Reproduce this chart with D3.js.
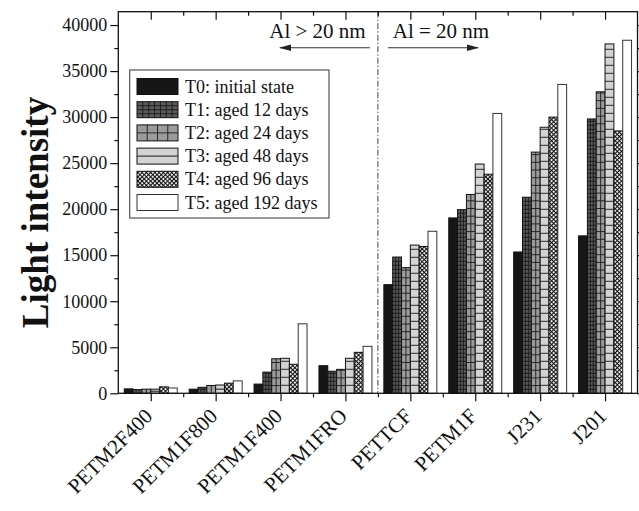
<!DOCTYPE html>
<html>
<head>
<meta charset="utf-8">
<script src="https://cdn.jsdelivr.net/npm/d3@7"></script>
<style>
  body { margin: 0; background: #fff; }
  svg { display: block; }
  text { font-family: "Liberation Serif", "Times New Roman", serif; fill: #111; }
</style>
</head>
<body>
<svg id="chart" width="639" height="511"></svg>
<script>
// Samples along the x axis
const samples = ["PETM2F400", "PETM1F800", "PETM1F400", "PETM1FRO", "PETTCF", "PETM1F", "J231", "J201"];

// Ageing states
const seriesNames = [
  "T0: initial state",
  "T1: aged 12 days",
  "T2: aged 24 days",
  "T3: aged 48 days",
  "T4: aged 96 days",
  "T5: aged 192 days"
];

// Light intensity per sample, one array per ageing state
const t0 = [480, 450, 1000, 3000, 11800, 19050, 15350, 17100];
const t1 = [400, 650, 2300, 2400, 14800, 19950, 21300, 29800];
const t2 = [450, 850, 3750, 2600, 13650, 21600, 26200, 32750];
const t3 = [450, 900, 3800, 3800, 16100, 24900, 28900, 37950];
const t4 = [700, 1100, 3150, 4450, 15950, 23800, 30000, 28500];
const t5 = [580, 1350, 7550, 5100, 17600, 30400, 33550, 38350];
const seriesValues = [t0, t1, t2, t3, t4, t5];

const yTicks = [0, 5000, 10000, 15000, 20000, 25000, 30000, 35000, 40000];
const yMinorTicks = [2500, 7500, 12500, 17500, 22500, 27500, 32500, 37500];
const yTitle = "Light intensity";
const leftNote = "Al > 20 nm";
const rightNote = "Al = 20 nm";
const dividerSample = "PETTCF";

const frame = { left: 118.3, right: 637.5, top: 11.7, bottom: 393.3 };
const svg = d3.select("#chart");

const x0 = d3.scaleBand().domain(samples).range([frame.left, frame.right]);
const x1 = d3.scaleBand().domain(d3.range(seriesNames.length))
  .range([0, x0.bandwidth()]).paddingInner(0).paddingOuter(0.675);
const y = d3.scaleLinear().domain([0, 41450]).range([frame.bottom, frame.top]);

// Fill styles for each ageing state
const baseFill = ["#161616", "#5a5a5a", "#9b9b9b", "#d3d3d3", "url(#checks)", "#ffffff"];
const barGrid = [null, { cols: 3, step: 4 }, { cols: 2, step: 7.7 }, { cols: 1, step: 8 }, null, null];
const swatchGrid = [null, { cols: 7, step: 4 }, { cols: 4, step: 8 }, { cols: 1, step: 8 }, null, null];

const defs = svg.append("defs");
const checks = defs.append("pattern").attr("id", "checks")
  .attr("patternUnits", "userSpaceOnUse").attr("width", 3).attr("height", 3)
  .attr("patternTransform", "rotate(45)");
checks.append("rect").attr("width", 3).attr("height", 3).attr("fill", "#fff");
checks.append("rect").attr("width", 3).attr("height", 1.1).attr("fill", "#111");
checks.append("rect").attr("width", 1.1).attr("height", 3).attr("fill", "#111");

defs.append("marker").attr("id", "arrowhead")
  .attr("markerUnits", "userSpaceOnUse").attr("markerWidth", 12).attr("markerHeight", 8)
  .attr("refX", 11).attr("refY", 4).attr("orient", "auto")
  .append("path").attr("d", "M0,0.8 L12,4 L0,7.2 Z").attr("fill", "#222");

// Draws a filled box with its grid lines
function drawBox(g, i, bx, by, bw, bh, grid) {
  g.append("rect").attr("x", bx).attr("y", by).attr("width", bw).attr("height", bh)
    .attr("fill", baseFill[i]);
  if (grid) {
    for (let k = 1; k < grid.cols; k++) {
      const lx = bx + k * bw / grid.cols;
      g.append("line").attr("x1", lx).attr("x2", lx).attr("y1", by).attr("y2", by + bh)
        .attr("stroke", "#1a1a1a").attr("stroke-width", 0.9);
    }
    if (grid.cols === 1 && bh < 20) {
      g.append("line").attr("x1", bx).attr("x2", bx + bw).attr("y1", by + bh / 2).attr("y2", by + bh / 2)
        .attr("stroke", "#1a1a1a").attr("stroke-width", 1);
    } else {
      for (let ly = by + bh - grid.step; ly > by + 0.5; ly -= grid.step) {
        g.append("line").attr("x1", bx).attr("x2", bx + bw).attr("y1", ly).attr("y2", ly)
          .attr("stroke", "#1a1a1a").attr("stroke-width", 0.9);
      }
    }
  }
  g.append("rect").attr("x", bx).attr("y", by).attr("width", bw).attr("height", bh)
    .attr("fill", "none").attr("stroke", i === 5 ? "#333" : "#111").attr("stroke-width", 1);
}

// Bars
const barsG = svg.append("g");
seriesValues.forEach((vals, i) => {
  vals.forEach((v, j) => {
    const bx = x0(samples[j]) + x1(i);
    const by = y(v);
    drawBox(barsG, i, bx, by, x1.bandwidth(), y(0) - by, barGrid[i]);
  });
});

// Divider between the two aluminium thickness groups
svg.append("line")
  .attr("x1", x0(dividerSample)).attr("x2", x0(dividerSample))
  .attr("y1", frame.top).attr("y2", frame.bottom)
  .attr("stroke", "#444").attr("stroke-width", 1).attr("stroke-dasharray", "6,2,1.5,2");

// Axes
const centers = samples.map(s => x0(s) + x0.bandwidth() / 2);
const bounds = samples.slice(1).map(s => x0(s));
const xc = d3.scaleLinear().domain([0, 639]).range([0, 639]);

function styleAxis(g) {
  g.select(".domain").remove();
  g.selectAll("line").attr("stroke", "#111").attr("stroke-width", 1.2);
}

svg.append("g").attr("transform", `translate(${frame.left},0)`)
  .call(d3.axisLeft(y).tickValues(yTicks).tickSize(8).tickPadding(3).tickFormat(d3.format("d")))
  .call(styleAxis)
  .selectAll("text").attr("font-size", 18).attr("font-family", "Liberation Serif").attr("fill", "#111");
svg.append("g").attr("transform", `translate(${frame.left},0)`)
  .call(d3.axisLeft(y).tickValues(yMinorTicks).tickSize(4).tickFormat(""))
  .call(styleAxis);
svg.append("g").attr("transform", `translate(${frame.right},0)`)
  .call(d3.axisLeft(y).tickValues(yTicks).tickSize(-8).tickFormat(""))
  .call(styleAxis);
svg.append("g").attr("transform", `translate(${frame.right},0)`)
  .call(d3.axisLeft(y).tickValues(yMinorTicks).tickSize(-4).tickFormat(""))
  .call(styleAxis);

svg.append("g").attr("transform", `translate(0,${frame.bottom})`)
  .call(d3.axisBottom(xc).tickValues(centers).tickSize(8).tickFormat(""))
  .call(styleAxis);
svg.append("g").attr("transform", `translate(0,${frame.bottom})`)
  .call(d3.axisBottom(xc).tickValues(bounds).tickSize(4).tickFormat(""))
  .call(styleAxis);
svg.append("g").attr("transform", `translate(0,${frame.top})`)
  .call(d3.axisBottom(xc).tickValues(centers).tickSize(8).tickFormat(""))
  .call(styleAxis);
svg.append("g").attr("transform", `translate(0,${frame.top})`)
  .call(d3.axisBottom(xc).tickValues(bounds).tickSize(4).tickFormat(""))
  .call(styleAxis);

// Frame
svg.append("rect")
  .attr("x", frame.left).attr("y", frame.top)
  .attr("width", frame.right - frame.left).attr("height", frame.bottom - frame.top)
  .attr("fill", "none").attr("stroke", "#111").attr("stroke-width", 1.3);

// Sample labels
svg.append("g").selectAll("text").data(samples).join("text")
  .attr("transform", d => `translate(${x0(d) + x0.bandwidth() / 2 + 3},${frame.bottom + 24}) rotate(-45)`)
  .attr("text-anchor", "end").attr("font-size", 21)
  .text(d => d);

// Axis title
svg.append("text")
  .attr("transform", `translate(48,${(frame.top + frame.bottom) / 2 + 10}) rotate(-90)`)
  .attr("text-anchor", "middle").attr("font-size", 37).attr("font-weight", "bold")
  .text(yTitle);

// Thickness notes with arrows
svg.append("text").attr("x", 317.5).attr("y", 38).attr("text-anchor", "middle")
  .attr("font-size", 21).text(leftNote);
svg.append("text").attr("x", 441).attr("y", 38).attr("text-anchor", "middle")
  .attr("font-size", 21).text(rightNote);
svg.append("line").attr("x1", 370).attr("x2", 280).attr("y1", 47.7).attr("y2", 47.7)
  .attr("stroke", "#333").attr("stroke-width", 1.1).attr("marker-end", "url(#arrowhead)");
svg.append("line").attr("x1", 388).attr("x2", 478).attr("y1", 47.7).attr("y2", 47.7)
  .attr("stroke", "#333").attr("stroke-width", 1.1).attr("marker-end", "url(#arrowhead)");

// Legend
const legend = svg.append("g");
legend.append("rect").attr("x", 129.7).attr("y", 70).attr("width", 199.3).attr("height", 148)
  .attr("fill", "#fff").attr("stroke", "#444").attr("stroke-width", 1.1);
seriesNames.forEach((name, i) => {
  const top = 78.5 + i * 23.2;
  drawBox(legend, i, 137, top, 41, 16, swatchGrid[i]);
  legend.append("text").attr("x", 185).attr("y", top + 14).attr("font-size", 18).text(name);
});
</script>
</body>
</html>
